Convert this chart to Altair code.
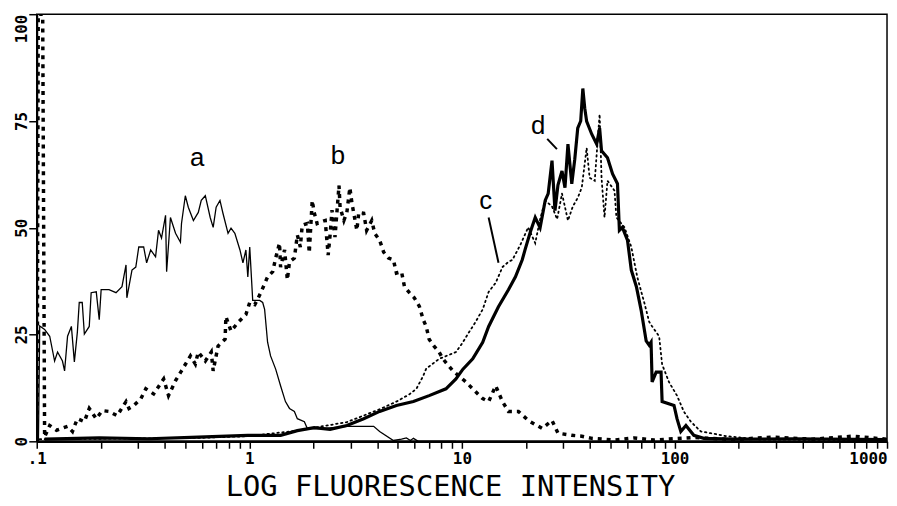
import altair as alt
import pandas as pd

# ---- curve a (thin solid): log10(intensity) and % of max ----
a_log10 = [-0.992, -0.986, -0.963, -0.939, -0.916, -0.902, -0.879, -0.869, -0.855, -0.837,
           -0.823, -0.809, -0.800, -0.786, -0.776, -0.753, -0.744, -0.720, -0.706, -0.697,
           -0.660, -0.627, -0.599, -0.580, -0.576, -0.552, -0.534, -0.520, -0.497, -0.483,
           -0.464, -0.441, -0.427, -0.413, -0.394, -0.389, -0.371, -0.347, -0.324, -0.319,
           -0.301, -0.287, -0.263, -0.240, -0.226, -0.207, -0.184, -0.170, -0.156, -0.138,
           -0.124, -0.100, -0.086, -0.068, -0.044, -0.030, -0.016, -0.007, 0.002, 0.016,
           0.049, 0.063, 0.072, 0.086, 0.100, 0.124, 0.147, 0.170, 0.189, 0.212,
           0.226, 0.259, 0.273, 0.352, 0.459, 0.585, 0.613, 0.678, 0.716, 0.739,
           0.758, 0.772, 0.795, 0.972]
a_count = [0, 27, 26.2, 24.6, 18.8, 20.9, 18.8, 16.5, 24.6, 26.9,
           18.6, 25.5, 32.5, 32.5, 25.1, 26.9, 34.8, 35.0, 28.5, 35.5,
           35.5, 34.8, 36.2, 41.3, 33.6, 40.1, 40.8, 45.5, 45.5, 41.8,
           44.8, 43.2, 49.4, 47.6, 52.9, 39.7, 52.4, 48.7, 46.6, 51.0,
           57.5, 54.8, 51.7, 53.6, 56.4, 57.5, 52.4, 50.1, 54.8, 56.4,
           53.4, 48.7, 49.9, 48.7, 44.8, 41.8, 44.8, 38.5, 45.5, 33,
           33, 32.5, 30.9, 23.2, 20, 16.9, 13, 9.3, 7.7, 7.0,
           5.3, 4.6, 3.0, 3.0, 3.5, 3.5, 2.3, 0.2, 0.5, 0.8,
           0.2, 0.7, 0, 0]

# ---- curve b (thick dashed) ----
b_log10 = [-0.998, -0.993, -0.972, -0.963, -0.939, -0.907, -0.855, -0.832, -0.809, -0.776,
           -0.753, -0.720, -0.692, -0.660, -0.622, -0.580, -0.566, -0.543, -0.510, -0.487,
           -0.450, -0.403, -0.380, -0.347, -0.319, -0.277, -0.254, -0.240, -0.207, -0.179,
           -0.170, -0.147, -0.114, -0.110, -0.086, -0.054, -0.016, 0.002, 0.026, 0.054,
           0.086, 0.110, 0.124, 0.142, 0.147, 0.166, 0.179, 0.189, 0.212, 0.226,
           0.240, 0.249, 0.273, 0.282, 0.296, 0.305, 0.319, 0.333, 0.357, 0.371,
           0.380, 0.389, 0.403, 0.422, 0.427, 0.445, 0.459, 0.473, 0.483, 0.506,
           0.515, 0.538, 0.552, 0.576, 0.590, 0.613, 0.632, 0.655, 0.678, 0.692,
           0.716, 0.730, 0.753, 0.776, 0.800, 0.818, 0.832, 0.846, 0.869, 0.893,
           0.911, 0.939, 0.958, 0.986, 1.019, 1.065, 1.098, 1.126, 1.159, 1.172,
           1.191, 1.219, 1.266, 1.312, 1.378, 1.424, 1.452, 1.517, 1.564, 1.611,
           1.718, 1.811, 1.904, 2.091, 2.277, 2.464, 2.650, 2.837, 3.000]
b_count = [0, 100, 100, 1, 3.7, 2.6, 3.5, 2.3, 5.3, 4.6,
           7.7, 5.3, 7.2, 7.0, 6.0, 9.3, 7.7, 8.4, 10, 12.3,
           11.1, 14.6, 10.7, 14.2, 16.5, 20, 18.1, 20.9, 18.8, 20.9,
           16.5, 22.3, 23.9, 29.2, 25.8, 27.8, 29.7, 32.5, 32.0, 34.8,
           38.5, 39.7, 42.9, 46.4, 40.8, 44.8, 37.8, 42, 42.9, 48.3,
           45.5, 50.6, 51.0, 44.1, 56.4, 53.6, 51, 51.3, 51.7, 43.6,
           48.3, 54.1, 47.8, 59.9, 54.8, 51.7, 53.6, 59.4, 55.7, 49.4,
           53.6, 53.4, 49.4, 51.7, 48.7, 47.1, 44.3, 42.9, 42.5, 39.4,
           39.7, 36.2, 34.8, 33.6, 31.6, 28.5, 26.9, 23.9, 22.3, 20.9,
           19.3, 17.6, 16.5, 15.3, 13.9, 11.6, 10, 9.3, 13, 11.5,
           9.3, 7, 7, 4.9, 3.0, 4.9, 1.9, 1.4, 1.2, 0.7,
           0.3, 0.8, 0.3, 0.9, 0.4, 1.0, 0.5, 1.2, 0.5]

# ---- curve c (fine dotted) ----
c_log10 = [-0.986, -0.706, -0.240, -0.007, 0.226, 0.459, 0.613, 0.692, 0.753, 0.786,
           0.818, 0.832, 0.893, 0.972, 1.005, 1.033, 1.065, 1.098, 1.126, 1.159,
           1.191, 1.219, 1.238, 1.275, 1.312, 1.345, 1.368, 1.392, 1.424, 1.448,
           1.471, 1.499, 1.522, 1.545, 1.564, 1.587, 1.601, 1.625, 1.648, 1.657,
           1.671, 1.685, 1.718, 1.727, 1.765, 1.797, 1.825, 1.844, 1.858, 1.881,
           1.895, 1.928, 1.942, 1.974, 2.012, 2.044, 2.077, 2.124, 2.170, 2.245,
           2.403, 3.000]
c_count = [0.5, 0.6, 0.8, 1.2, 2.5, 4.5, 7.5, 9.3, 11, 12.3,
           15.3, 17, 19.3, 20.9, 23.2, 25.5, 28, 30.9, 35, 37.1,
           40.8, 42, 42.5, 46, 50.1, 46.4, 52, 56.4, 55, 52,
           58, 51.7, 55, 57, 59.4, 68.7, 61.7, 61, 76.6, 61.7,
           52.4, 61, 58.7, 52.4, 50.1, 45.5, 38.5, 35, 32.5, 28,
           26.9, 24.6, 18, 13.9, 10.7, 7, 4.6, 2.3, 1.9, 1.2,
           0.4, 0.3]

# ---- curve d (thick solid) ----
d_log10 = [-0.963, -0.706, -0.473, -0.240, -0.007, 0.147, 0.226, 0.305, 0.380, 0.459,
           0.538, 0.613, 0.692, 0.772, 0.846, 0.925, 0.972, 1.005, 1.051, 1.098,
           1.126, 1.172, 1.219, 1.252, 1.284, 1.298, 1.322, 1.345, 1.368, 1.392,
           1.406, 1.424, 1.438, 1.452, 1.471, 1.485, 1.499, 1.517, 1.531, 1.545,
           1.559, 1.569, 1.578, 1.587, 1.611, 1.634, 1.648, 1.657, 1.685, 1.709,
           1.732, 1.741, 1.755, 1.779, 1.797, 1.821, 1.844, 1.867, 1.881, 1.890,
           1.895, 1.914, 1.937, 1.942, 1.998, 2.012, 2.030, 2.054, 2.091, 2.138,
           2.277, 2.557, 3.000]
d_count = [0.5, 0.8, 0.6, 1.0, 1.4, 1.4, 2.5, 3.2, 2.8, 3.7,
           5.3, 7, 8.4, 9.3, 10.7, 12.3, 14.6, 16.9, 19.3, 23.2,
           26.9, 31.5, 35.5, 38.5, 42.5, 45, 49, 52.4, 50, 56.4,
           58, 65.7, 54, 60, 63.3, 59.4, 69.6, 60.3, 66, 73.3,
           75, 82.6, 78, 74.9, 71.9, 69.6, 73.3, 68, 66.4, 62.6,
           60.3, 49.4, 50.1, 47.1, 40.1, 36.2, 30.5, 23.5, 22.5, 23.2,
           13.9, 16.2, 16.2, 9.3, 8.4, 5.3, 2.3, 3.7, 1.4, 0.7,
           0.5, 0.6, 0.4]

# ---- curve letters and leader lines ----
label_text = ["a", "b", "c", "d"]
label_intensity = [0.569, 2.61, 12.94, 22.86]
label_count = [64.5, 65.0, 54.5, 71.9]

leader_intensity = [13.36, 25.2]
leader_count = [52.4, 70.8]
leader_intensity2 = [14.87, 28.0]
leader_count2 = [41.8, 68.4]

x_tick_values = [0.1, 0.2, 0.3, 0.4, 0.5, 0.6, 0.7, 0.8, 0.9,
                 1, 2, 3, 4, 5, 6, 7, 8, 9,
                 10, 20, 30, 40, 50, 60, 70, 80, 90,
                 100, 200, 300, 400, 500, 600, 700, 800, 900, 1000]
y_tick_values = [0, 25, 50, 75, 100]


def frame(logs, counts):
    return pd.DataFrame({
        "intensity": [10 ** v for v in logs],
        "count": counts,
        "idx": list(range(len(logs))),
    })


x_scale = alt.Scale(type="log", domain=[0.1, 1000], nice=False, zero=False)
y_scale = alt.Scale(domain=[0, 100], nice=False, zero=False)

x_axis = alt.Axis(
    values=x_tick_values,
    labelExpr=("datum.value == 0.1 ? '.1' : datum.value == 1 ? '1' : datum.value == 10 ? '10' : "
               "datum.value == 100 ? '100' : datum.value == 1000 ? '1000' : ''"),
    labelAlign={"condition": {"test": "datum.value == 1000", "value": "right"}, "value": "center"},
    labelFlush=False, labelOverlap=False, labelBound=False,
    labelFont="DejaVu Sans Mono", labelFontSize=16, labelFontWeight="bold", labelColor="black",
    labelPadding=2,
    tickSize=7, tickWidth=1.5, tickColor="black",
    domainColor="black", domainWidth=2.5, grid=False,
    title="LOG FLUORESCENCE INTENSITY",
    titleFont="DejaVu Sans Mono", titleFontSize=29, titleFontWeight="normal", titleColor="black",
    titleX=417, titleY=55, titleAlign="center", titleBaseline="alphabetic",
)
y_axis = alt.Axis(
    values=y_tick_values, format="d",
    labelAngle=-90,
    labelAlign={"condition": {"test": "datum.value == 100", "value": "right"}, "value": "center"},
    labelBaseline="alphabetic",
    labelFlush=False, labelOverlap=False, labelBound=False,
    labelFont="DejaVu Sans Mono", labelFontSize=16, labelFontWeight="bold", labelColor="black",
    labelPadding=2,
    tickSize=8, tickWidth=1.5, tickColor="black",
    domainColor="black", domainWidth=2, grid=False, title=None,
)

X = alt.X("intensity:Q", scale=x_scale, axis=x_axis)
Y = alt.Y("count:Q", scale=y_scale, axis=y_axis)

line_a = alt.Chart(frame(a_log10, a_count)).mark_line(
    color="black", strokeWidth=1.3, clip=True
).encode(x=X, y=Y, order="idx:Q")

line_b = alt.Chart(frame(b_log10, b_count)).mark_line(
    color="black", strokeWidth=3.5, strokeDash=[4, 5], clip=True
).encode(x=X, y=Y, order="idx:Q")

line_c = alt.Chart(frame(c_log10, c_count)).mark_line(
    color="black", strokeWidth=1.8, strokeDash=[1.5, 3.5], strokeCap="round", clip=True
).encode(x=X, y=Y, order="idx:Q")

line_d = alt.Chart(frame(d_log10, d_count)).mark_line(
    color="black", strokeWidth=3.2, clip=True
).encode(x=X, y=Y, order="idx:Q")

labels_df = pd.DataFrame({"intensity": label_intensity, "count": label_count, "text": label_text})
letters = alt.Chart(labels_df).mark_text(
    font="Liberation Sans", fontSize=26, color="black", align="center", baseline="alphabetic"
).encode(x=X, y=Y, text="text:N")

leaders_df = pd.DataFrame({
    "intensity": leader_intensity, "count": leader_count,
    "intensity2": leader_intensity2, "count2": leader_count2,
})
leaders = alt.Chart(leaders_df).mark_rule(color="black", strokeWidth=2).encode(
    x=X, y=Y, x2="intensity2:Q", y2="count2:Q"
)

chart = alt.layer(line_a, line_b, line_c, line_d, letters, leaders).properties(
    width=858, height=431,
    autosize=alt.AutoSizeParams(type="none"),
    padding={"left": 29, "top": 4, "right": 2, "bottom": 62},
    background="white",
).configure_view(stroke="black", strokeWidth=1.5)

chart.save("out.html", embed_options={"renderer": "svg", "actions": False})
